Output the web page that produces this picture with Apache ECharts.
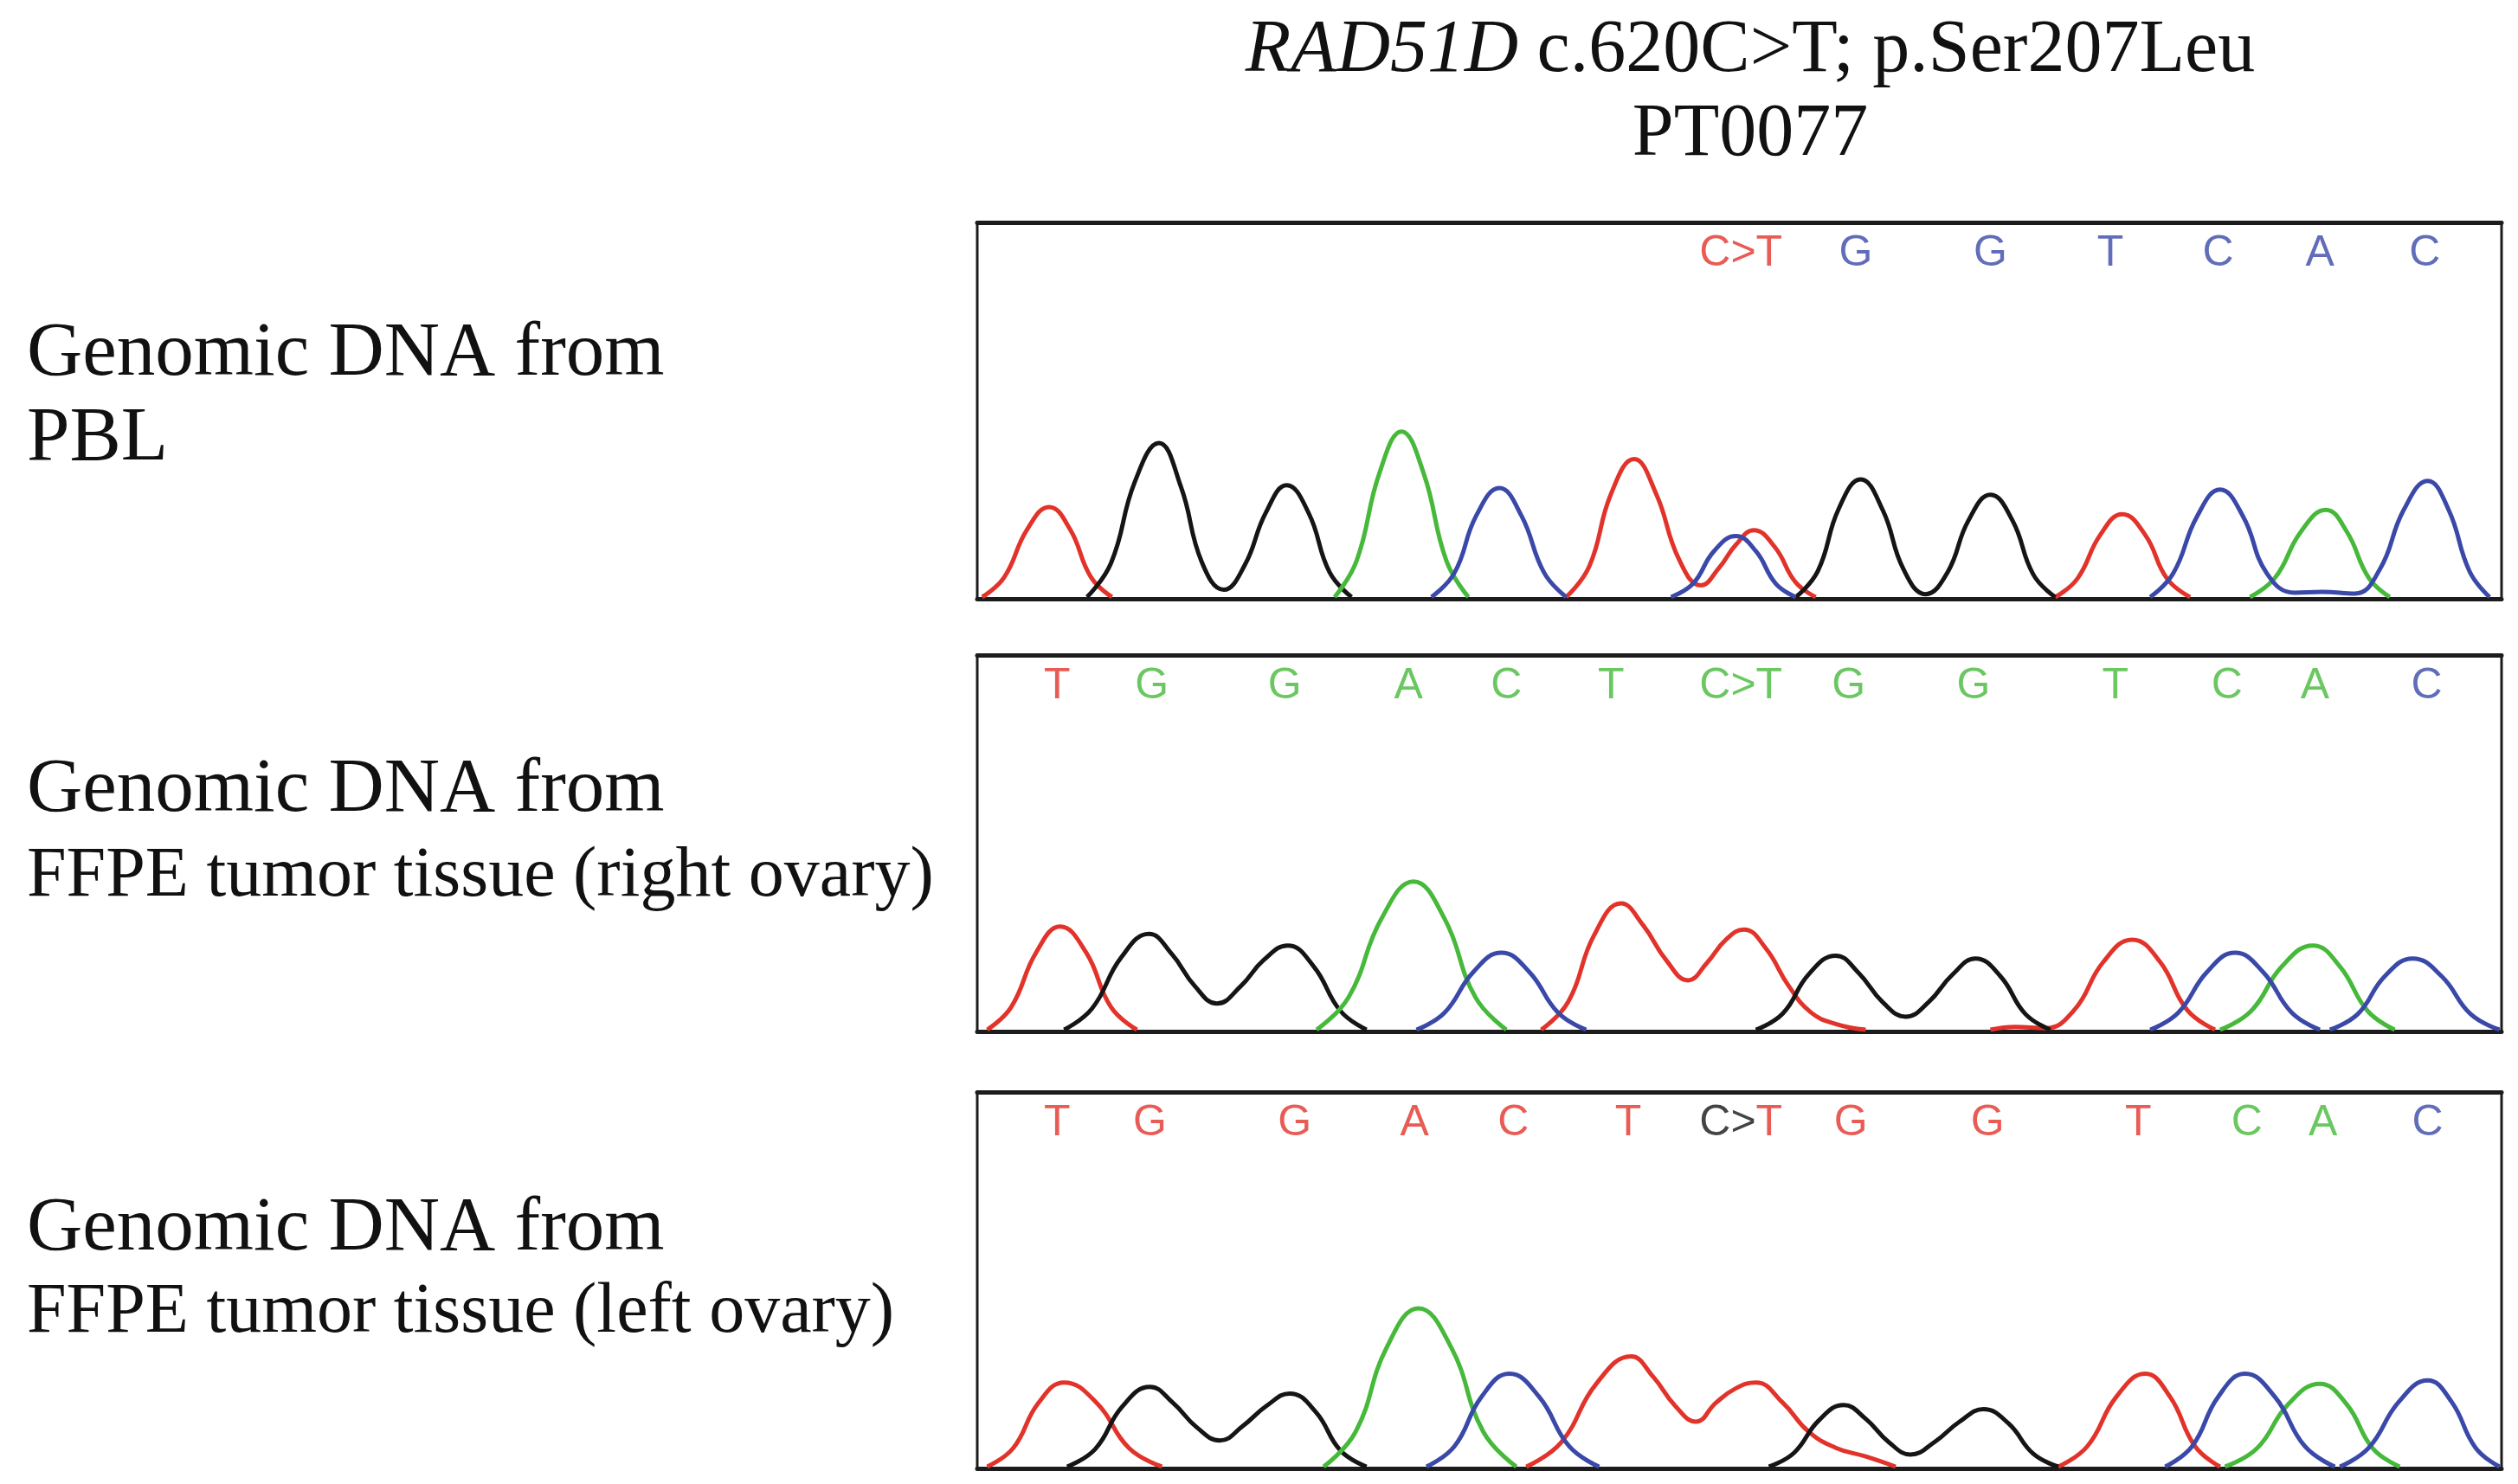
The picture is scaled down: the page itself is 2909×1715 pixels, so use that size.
<!DOCTYPE html>
<html>
<head>
<meta charset="utf-8">
<script src="https://cdn.jsdelivr.net/npm/echarts@6/dist/echarts.min.js"></script>
<style>
  html, body { margin: 0; background: #fff; }
  #chart { width: 2909px; height: 1715px; }
</style>
</head>
<body>
<div id="chart"></div>
<script>
// scan position (x) and signal (y), one array per peak group
// PBL
const pblT = [
    [[30,0],[52,68],[75,233],[97,310],[118,233],[139,68],[160,0]],
    [[615,0],[638,105],[660,356],[683,475],[705,356],[728,130],[750,40],[768,100],[785,180],[803,230],[824,172],[845,50],[865,0]],
    [[1105,0],[1127,63],[1150,214],[1172,285],[1195,214],[1217,63],[1240,0]]
];
const pblG = [
    [[135,0],[159,117],[183,398],[207,530],[229,380],[250,120],[272,25],[293,110],[314,290],[335,385],[357,289],[378,85],[400,0]],
    [[845,0],[867,89],[888,304],[910,405],[932,300],[953,95],[975,10],[997,85],[1018,264],[1040,352],[1062,264],[1083,77],[1105,0]]
];
const pblA = [
    [[383,0],[405,125],[428,428],[450,570],[472,428],[495,125],[517,0]],
    [[1300,0],[1325,66],[1351,225],[1376,300],[1397,225],[1419,66],[1440,0]]
];
const pblC = [
    [[480,0],[503,83],[525,281],[548,375],[570,281],[593,83],[615,0]],
    [[720,0],[742,46],[763,158],[785,210],[805,158],[825,46],[845,0]],
    [[1200,0],[1223,81],[1247,278],[1270,370],[1293,278],[1317,81],[1345,15],[1372,18],[1405,12],[1430,95],[1454,300],[1478,400],[1499,300],[1520,88],[1540,0]]
];
const pblBases = ['C>T', 'G', 'G', 'T', 'C', 'A', 'C'];
const pblBasePos = [790, 905, 1040, 1160, 1268, 1370, 1475];
const pblBaseColors = ['r', 'b', 'b', 'b', 'b', 'b', 'b'];

// FFPE right ovary
const rightT = [
    [[35,0],[59,78],[84,266],[108,355],[134,266],[159,78],[185,0]],
    [[590,0],[617,96],[643,326],[670,435],[692,360],[715,240],[737,170],[756,230],[775,310],[793,345],[815,280],[838,150],[860,60],[885,20],[915,0]],
    [[1040,0],[1065,10],[1095,5],[1124,68],[1153,233],[1182,310],[1210,233],[1237,68],[1265,0]]
];
const rightG = [
    [[112,0],[140,73],[169,248],[197,330],[220,260],[243,150],[265,90],[289,150],[312,240],[336,290],[362,218],[389,64],[415,0]],
    [[805,0],[832,56],[858,191],[885,255],[908,195],[932,95],[955,45],[978,95],[1002,190],[1025,245],[1050,184],[1075,54],[1100,0]]
];
const rightA = [
    [[365,0],[397,112],[430,383],[462,510],[493,383],[524,112],[555,0]],
    [[1270,0],[1301,64],[1332,218],[1363,290],[1390,218],[1418,64],[1445,0]]
];
const rightC = [
    [[465,0],[493,58],[522,199],[550,265],[578,199],[607,58],[635,0]],
    [[1200,0],[1228,58],[1257,199],[1285,265],[1313,199],[1342,58],[1370,0]],
    [[1380,0],[1408,54],[1435,184],[1463,245],[1492,184],[1521,54],[1550,0]]
];
const rightBases = ['T', 'G', 'G', 'A', 'C', 'T', 'C>T', 'G', 'G', 'T', 'C', 'A', 'C'];
const rightBasePos = [105, 200, 333, 457, 555, 660, 790, 898, 1023, 1165, 1277, 1365, 1477];
const rightBaseColors = ['r', 'g', 'g', 'g', 'g', 'g', 'g', 'g', 'g', 'g', 'g', 'g', 'b'];

// FFPE left ovary
const leftT = [
    [[35,0],[61,64],[86,218],[112,290],[145,218],[177,64],[210,0]],
    [[575,0],[610,84],[645,285],[680,380],[702,310],[724,210],[745,155],[765,220],[785,270],[805,290],[832,220],[858,120],[885,65],[915,35],[945,0]],
    [[1108,0],[1137,70],[1166,240],[1195,320],[1220,240],[1245,70],[1270,0]]
];
const leftG = [
    [[115,0],[143,60],[170,206],[198,275],[221,220],[245,135],[268,90],[291,140],[315,210],[338,252],[364,189],[389,55],[415,0]],
    [[818,0],[843,47],[868,159],[893,212],[915,165],[938,85],[960,42],[984,85],[1009,155],[1033,198],[1058,149],[1083,44],[1108,0]]
];
const leftA = [
    [[372,0],[404,120],[435,409],[467,545],[500,409],[532,120],[565,0]],
    [[1275,0],[1307,63],[1338,214],[1370,285],[1397,214],[1423,63],[1450,0]]
];
const leftC = [
    [[475,0],[503,70],[530,240],[558,320],[588,240],[618,70],[648,0]],
    [[1215,0],[1242,70],[1268,240],[1295,320],[1325,240],[1355,70],[1385,0]],
    [[1390,0],[1419,65],[1449,223],[1478,297],[1502,223],[1526,65],[1550,0]]
];
const leftBases = ['T', 'G', 'G', 'A', 'C', 'T', 'C>T', 'G', 'G', 'T', 'C', 'A', 'C'];
const leftBasePos = [105, 198, 343, 463, 562, 677, 790, 900, 1037, 1188, 1297, 1373, 1478];
const leftBaseColors = ['r', 'r', 'r', 'r', 'r', 'r', 'kr', 'r', 'r', 'r', 'g', 'g', 'b'];

const colors = { r: '#e2332b', k: '#151515', g: '#46b93a', b: '#3a49a8' };
const serif = '"Liberation Serif", "DejaVu Serif", serif';
const sans = '"Liberation Sans", Arial, sans-serif';

const panels = [
    { top: 257, traces: [[pblT, 'r'], [pblG, 'k'], [pblA, 'g'], [pblC, 'b']], bases: pblBases, pos: pblBasePos, keys: pblBaseColors,
      label: ['Genomic DNA from', 'PBL'], labelY: [410, 508], labelSize: [89, 89] },
    { top: 757, traces: [[rightT, 'r'], [rightG, 'k'], [rightA, 'g'], [rightC, 'b']], bases: rightBases, pos: rightBasePos, keys: rightBaseColors,
      label: ['Genomic DNA from', 'FFPE tumor tissue (right ovary)'], labelY: [914, 1013], labelSize: [89, 82] },
    { top: 1262, traces: [[leftT, 'r'], [leftG, 'k'], [leftA, 'g'], [leftC, 'b']], bases: leftBases, pos: leftBasePos, keys: leftBaseColors,
      label: ['Genomic DNA from', 'FFPE tumor tissue (left ovary)'], labelY: [1421, 1517], labelSize: [89, 82] }
];

function baseLabel(text, key) {
    if (key.length === 2) {
        // mixed call: first part in one colour, last letter in the other
        return '{' + key[0] + '|' + text.slice(0, -1) + '}{' + key[1] + '|' + text.slice(-1) + '}';
    }
    return '{' + key + '|' + text + '}';
}

const rich = {};
Object.keys(colors).forEach(k => {
    rich[k] = { color: colors[k], fontSize: 50, fontFamily: sans };
});

const grids = [], xAxes = [], yAxes = [], series = [], graphics = [];

panels.forEach((p, gi) => {
    grids.push({ left: 1129, width: 1761, top: p.top, height: 435, show: true, borderColor: '#1c1c1c', borderWidth: 3, backgroundColor: '#fff' });
    ['bottom', 'top'].forEach(position => {
        xAxes.push({
            type: 'value', gridIndex: gi, position: position, min: 25, max: 1552,
            axisLine: { show: true, onZero: false, lineStyle: { color: '#1c1c1c', width: 5 } },
            axisTick: { show: false }, axisLabel: { show: false }, splitLine: { show: false }
        });
    });
    yAxes.push({
        type: 'value', gridIndex: gi, min: -6, max: 1290,
        axisLine: { show: false }, axisTick: { show: false }, axisLabel: { show: false }, splitLine: { show: false }
    });

    p.traces.forEach(([groups, key]) => {
        groups.forEach(g => {
            series.push({
                type: 'line', xAxisIndex: gi * 2, yAxisIndex: gi, data: g,
                smooth: 0.45, symbol: 'none', silent: true,
                lineStyle: { color: colors[key], width: 5 }
            });
        });
    });

    series.push({
        type: 'scatter', xAxisIndex: gi * 2, yAxisIndex: gi, symbolSize: 1, silent: true,
        itemStyle: { color: 'rgba(0,0,0,0)' },
        label: { show: true, position: 'inside', rich: rich },
        data: p.bases.map((b, i) => ({ value: [p.pos[i], 1182], label: { formatter: baseLabel(b, p.keys[i]) } }))
    });

    p.label.forEach((line, li) => {
        graphics.push({
            type: 'text', left: 31, y: p.labelY[li],
            style: { text: line, font: 'normal ' + p.labelSize[li] + 'px ' + serif, fill: '#111', textVerticalAlign: 'middle' }
        });
    });
});

// title
graphics.push({
    type: 'text', x: 2022, y: 59,
    style: {
        text: '{i|RAD51D}{n| c.620C>T; p.Ser207Leu}',
        rich: {
            i: { fontStyle: 'italic', fontSize: 86, fontFamily: serif, fill: '#111' },
            n: { fontSize: 86, fontFamily: serif, fill: '#111' }
        },
        font: 'normal 86px ' + serif, fill: '#111', textAlign: 'center', textVerticalAlign: 'middle'
    }
});
graphics.push({
    type: 'text', x: 2022, y: 156,
    style: { text: 'PT0077', font: 'normal 86px ' + serif, fill: '#111', textAlign: 'center', textVerticalAlign: 'middle' }
});

const myChart = echarts.init(document.getElementById('chart'));
myChart.setOption({
    animation: false,
    grid: grids,
    xAxis: xAxes,
    yAxis: yAxes,
    series: series,
    graphic: graphics
});
</script>
</body>
</html>
